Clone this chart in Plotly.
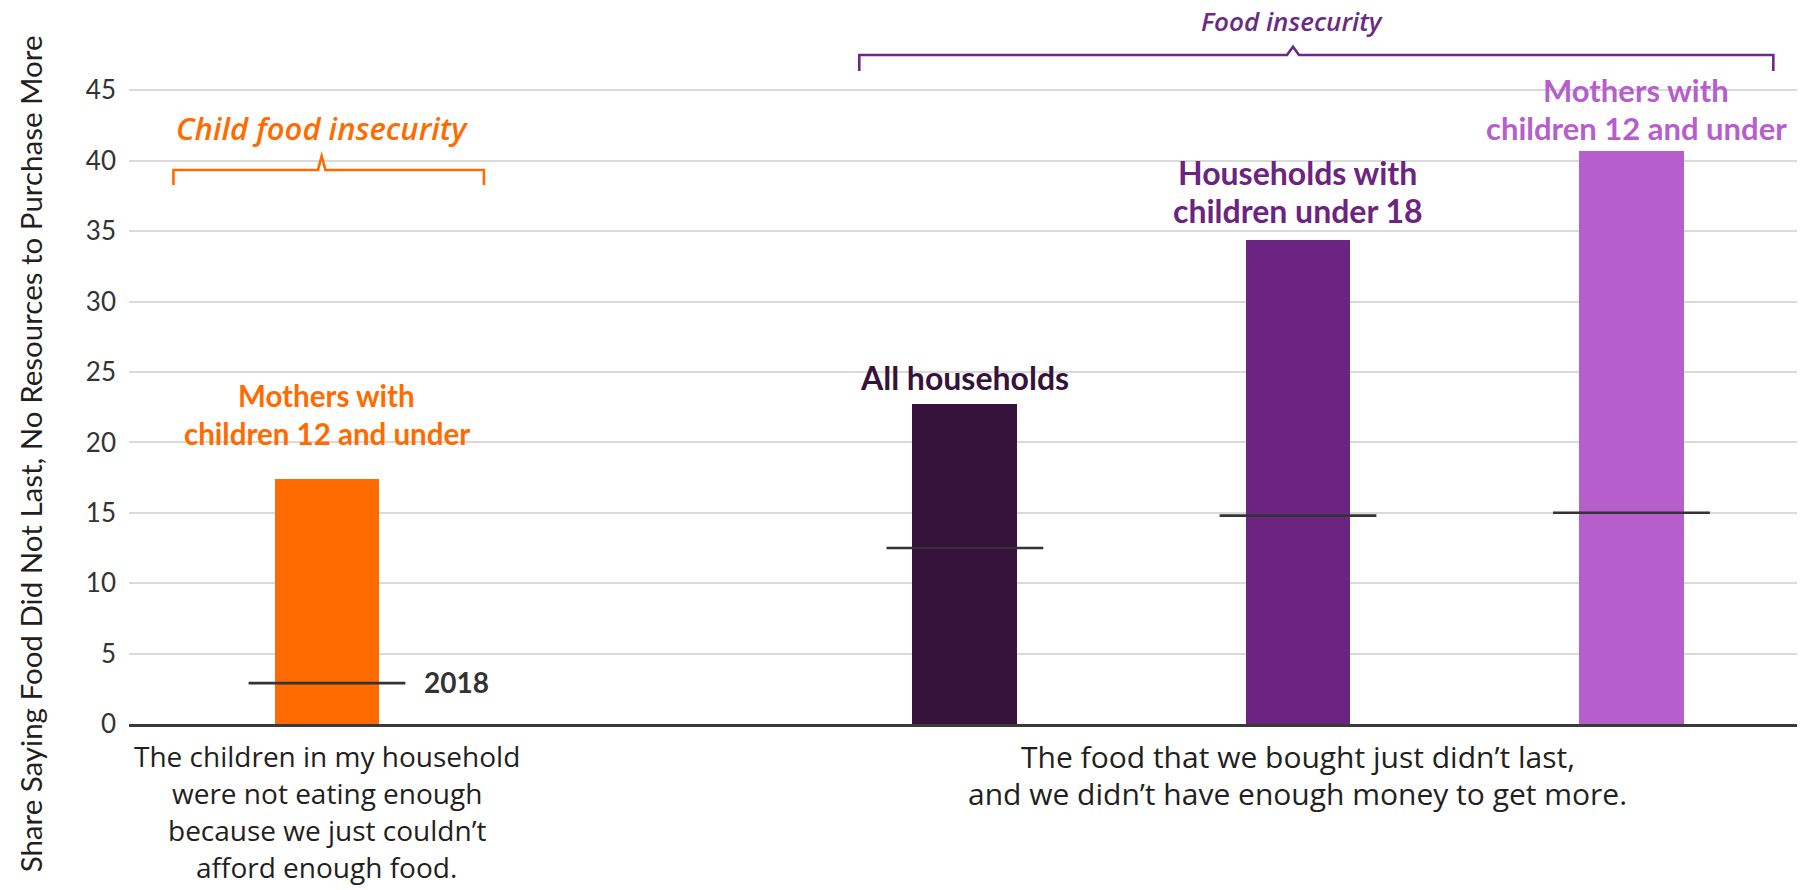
import plotly.graph_objects as go

# ---------------- data ----------------
bar_groups = ["Child food insecurity", "Food insecurity", "Food insecurity", "Food insecurity"]
bar_series = ["Mothers with children 12 and under", "All households",
              "Households with children under 18", "Mothers with children 12 and under"]
values_2020 = [17.4, 22.7, 34.4, 40.7]
values_2018 = [2.9, 12.5, 14.8, 15.0]
bar_label_lines = [["Mothers with", "children 12 and under"],
                   ["All households"],
                   ["Households with", "children under 18"],
                   ["Mothers with", "children 12 and under"]]
y_ticks = [0, 5, 10, 15, 20, 25, 30, 35, 40, 45]
category_lines = [["The children in my household", "were not eating enough",
                   "because we just couldn\u2019t", "afford enough food."],
                  ["The food that we bought just didn\u2019t last,",
                   "and we didn\u2019t have enough money to get more."]]
y_title = "Share Saying Food Did Not Last, No Resources to Purchase More"
benchmark_label = "2018"

# ---------------- layout / style ----------------
bar_x = [0.0, 1.915, 2.915, 3.916]          # slot positions
category_x = [bar_x[0], bar_x[2]]
category_sizes = [28, 30]
bar_colors = ["#FF6B00", "#36133B", "#6B2481", "#B55ECC"]
label_colors = ["#FF6B00", "#36133B", "#6B2481", "#B55ECC"]
label_sizes = [29.5, 32, 32, 31]
label_gaps = [46, 27, 29, 23]               # px between bar top and last label line
label_dx = [0, 0, 0, 5]
line_step = 38
FONT = "Lato"
FONT2 = "Open Sans"
ORANGE = "#FF6B00"
PURPLE = "#6B2A86"

fig = go.Figure()

fig.add_trace(go.Bar(
    x=bar_x, y=values_2020, width=0.315,
    marker=dict(color=bar_colors, line=dict(width=0)),
    hovertext=bar_series, showlegend=False,
))

fig.add_trace(go.Scatter(
    x=bar_x, y=values_2018, mode="markers",
    marker=dict(symbol="line-ew", size=112, color="#333333",
                line=dict(color="#333333", width=2.6)),
    showlegend=False, cliponaxis=False,
))

annotations = []

# bar labels
for i, lines in enumerate(bar_label_lines):
    n = len(lines)
    for j, txt in enumerate(lines):
        annotations.append(dict(
            x=bar_x[i], y=values_2020[i], xref="x", yref="y",
            text="<b>" + txt + "</b>", showarrow=False,
            xanchor="center", yanchor="middle",
            xshift=label_dx[i],
            yshift=label_gaps[i] + (n - 1 - j) * line_step,
            font=dict(family=FONT, size=label_sizes[i], color=label_colors[i]),
        ))

# 2018 benchmark label
annotations.append(dict(
    x=bar_x[0], y=values_2018[0], xref="x", yref="y",
    text="<b>" + benchmark_label + "</b>", showarrow=False,
    xanchor="left", yanchor="middle", xshift=95, yshift=1,
    font=dict(family=FONT, size=28, color="#333333"),
))

# category labels under axis
for k, lines in enumerate(category_lines):
    for j, txt in enumerate(lines):
        annotations.append(dict(
            x=category_x[k], y=0, xref="x", yref="paper",
            text=txt, showarrow=False, xanchor="center", yanchor="middle",
            yshift=-(32 + 37 * j),
            font=dict(family=FONT2, size=category_sizes[k], color="#231F20"),
        ))

# group titles
annotations.append(dict(
    x=-0.016, y=42.3, xref="x", yref="y", text="<i>Child food insecurity</i>",
    showarrow=False, xanchor="center", yanchor="middle",
    font=dict(family=FONT2, size=31, weight=600, color=ORANGE),
))
annotations.append(dict(
    x=2.90, y=49.9, xref="x", yref="y", text="<i>Food insecurity</i>",
    showarrow=False, xanchor="center", yanchor="middle",
    font=dict(family=FONT2, size=26, weight=600, color=PURPLE),
))

# y axis title
annotations.append(dict(
    x=-0.0585, y=0.373, xref="paper", yref="paper", text=y_title,
    showarrow=False, textangle=-90, xanchor="center", yanchor="middle",
    font=dict(family=FONT, size=29.5, color="#231F20"),
))


def bracket(x0, x1, xp, y_end, y_line, y_top, half):
    return (f"M {x0},{y_end} L {x0},{y_line} L {xp - half},{y_line} "
            f"L {xp},{y_top} L {xp + half},{y_line} L {x1},{y_line} L {x1},{y_end}")


shapes = [
    dict(type="path", xref="x", yref="y",
         path=bracket(-0.461, 0.471, -0.016, 38.28, 39.35, 40.34, 0.011),
         line=dict(color=ORANGE, width=2.6)),
    dict(type="path", xref="x", yref="y",
         path=bracket(1.598, 4.342, 2.900, 46.38, 47.51, 48.1, 0.018),
         line=dict(color=PURPLE, width=2.6)),
]

fig.update_layout(
    width=1801, height=890,
    margin=dict(l=129, r=4, t=0, b=166),
    paper_bgcolor="white", plot_bgcolor="white",
    font=dict(family=FONT, color="#231F20"),
    annotations=annotations, shapes=shapes,
    bargap=0,
    xaxis=dict(range=[-0.5944, 4.4131], showticklabels=False, showgrid=False,
               zeroline=False, showline=True, linecolor="#3A3A3A", linewidth=2.6,
               fixedrange=True),
    yaxis=dict(range=[0, 51.42], tickmode="array", tickvals=y_ticks,
               ticktext=[str(v) for v in y_ticks],
               showgrid=True, gridcolor="#DADADA", gridwidth=2.2,
               zeroline=False, showline=False, ticks="",
               ticklabelstandoff=12,
               tickfont=dict(family=FONT, size=26, color="#333333"),
               fixedrange=True),
)

fig.write_html("out.html", config={"displayModeBar": False},
               post_script="document.body.style.margin='0';document.body.style.overflow='hidden';")
